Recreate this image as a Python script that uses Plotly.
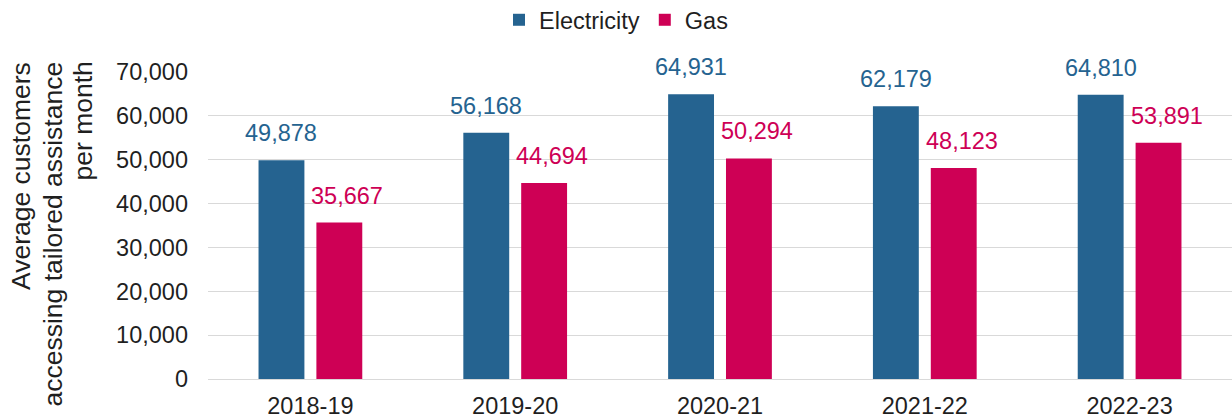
import plotly.graph_objects as go

categories = ["2018-19", "2019-20", "2020-21", "2021-22", "2022-23"]
electricity = [49878, 56168, 64931, 62179, 64810]
gas = [35667, 44694, 50294, 48123, 53891]
y_ticks = [0, 10000, 20000, 30000, 40000, 50000, 60000, 70000]
title_lines = ["Average customers", "accessing tailored assistance", "per month"]

BLUE = "#256390"
PINK = "#CE0055"
TEXT = "#1f1f1f"
FONT = "Liberation Sans, Arial, sans-serif"
FS = 23.5
TITLE_FS = 26.5

W, H = 1232, 418
ML, MR, MT, MB = 208, 0, 72, 39
BARGAP, GROUPGAP = 0.435, 0.207

fig = go.Figure()
fig.add_trace(go.Bar(name="Electricity", x=categories, y=electricity,
                     marker=dict(color=BLUE, line=dict(width=0))))
fig.add_trace(go.Bar(name="Gas", x=categories, y=gas,
                     marker=dict(color=PINK, line=dict(width=0))))

# value labels placed above bars
plot_w = W - ML - MR
plot_h = H - MT - MB
cat_w = plot_w / len(categories)
slot = cat_w * (1 - BARGAP) / 2
annotations = []
for series, color, sign, extra in ((electricity, BLUE, -1, 0), (gas, PINK, 1, 8)):
    for c, v in zip(categories, series):
        annotations.append(dict(
            x=c, y=v, xref="x", yref="y", text=f"{v:,}",
            showarrow=False, xanchor="center", yanchor="bottom",
            xshift=sign * slot / 2 + extra, yshift=12,
            font=dict(family=FONT, size=FS, color=color)))

# y axis title: three rotated lines, ends aligned at the top
title_x_px = [21, 52, 82]
for line, px in zip(title_lines, title_x_px):
    annotations.append(dict(
        text=line, xref="paper", yref="paper",
        x=(px - ML) / plot_w, y=(H - MB - 60) / plot_h,
        xanchor="center", yanchor="top", textangle=-90, showarrow=False,
        font=dict(family=FONT, size=TITLE_FS, color=TEXT)))

fig.update_layout(
    width=W, height=H,
    margin=dict(l=ML, r=MR, t=MT, b=MB, autoexpand=False),
    barmode="group", bargap=BARGAP, bargroupgap=GROUPGAP,
    plot_bgcolor="white", paper_bgcolor="white",
    font=dict(family=FONT, size=FS, color=TEXT),
    legend=dict(orientation="h", xref="container", yref="container",
                x=0.5, xanchor="center", y=1 - 20 / H, yanchor="middle",
                font=dict(family=FONT, size=FS, color=TEXT),
                bgcolor="rgba(0,0,0,0)"),
    annotations=annotations,
    showlegend=True,
)
fig.update_xaxes(type="category", showgrid=False, showline=False, zeroline=False,
                 ticks="", tickfont=dict(family=FONT, size=FS, color=TEXT),
                 ticklabelstandoff=10)
fig.update_yaxes(range=[0, 70000], tickvals=y_ticks, tickformat=",",
                 showgrid=True, gridcolor="#d9d9d9", gridwidth=1.4,
                 zeroline=True, zerolinecolor="#d9d9d9", zerolinewidth=1.4,
                 showline=False, ticks="",
                 tickfont=dict(family=FONT, size=FS, color=TEXT),
                 ticklabelstandoff=19)

fig.write_html("out.html", config={"displayModeBar": False},
               post_script="document.body.style.margin='0';document.body.style.padding='0';")
